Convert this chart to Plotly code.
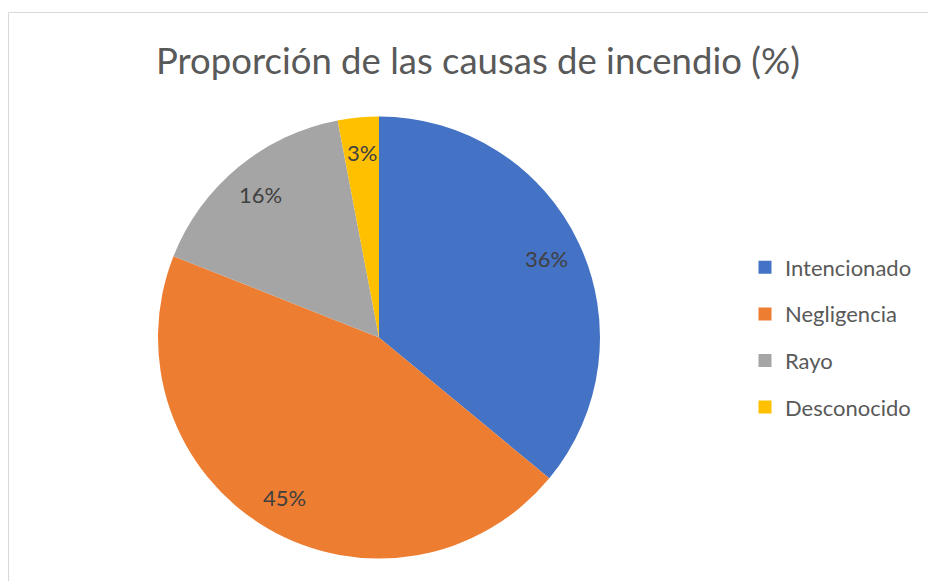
import math
import plotly.graph_objects as go

# ---- data ----
categories = ["Intencionado", "Negligencia", "Rayo", "Desconocido"]
values = [36, 45, 16, 3]
value_labels = ["36%", "45%", "16%", "3%"]
colors = ["#4472C4", "#ED7D31", "#A5A5A5", "#FFC000"]
title_text = "Proporción de las causas de incendio (%)"

# ---- layout constants ----
W, H = 936, 581
OFF = 8  # page body margin
FONT = "Lato"


def fx(sx):
    return (sx - OFF) / W


def fy(sy):
    return 1 - (sy - OFF) / H


cx, cy, r = 379, 337.5, 221

fig = go.Figure()
fig.add_trace(go.Pie(
    labels=categories, values=values, sort=False,
    direction="clockwise", rotation=0,
    marker=dict(colors=colors, line=dict(width=0)),
    textinfo="none", hoverinfo="none", showlegend=False,
    domain=dict(x=[fx(cx - r), fx(cx + r)], y=[fy(cy + r), fy(cy - r)]),
))

# legend entries (one group each so spacing can be controlled)
for i, (name, col) in enumerate(zip(categories, colors)):
    fig.add_trace(go.Scatter(
        x=[None], y=[None], mode="markers", name=name,
        legendgroup=f"g{i}",
        marker=dict(symbol="square", size=13, color=col),
        hoverinfo="skip",
    ))

# data labels placed at slice mid-angles
total = sum(values)
cum = 0
annotations = []
k = 0.84
for v, txt in zip(values, value_labels):
    mid = (cum + v / 2) / total * 2 * math.pi
    cum += v
    px = cx + k * r * math.sin(mid)
    py = cy - k * r * math.cos(mid)
    annotations.append(dict(
        x=fx(px), y=fy(py), xref="paper", yref="paper",
        text=txt, showarrow=False,
        font=dict(family=FONT, size=22, color="#404040"),
        xanchor="center", yanchor="middle",
    ))

annotations.append(dict(
    x=fx(478), y=fy(60), xref="paper", yref="paper",
    text=title_text, showarrow=False,
    font=dict(family=FONT, size=36.5, color="#595959"),
    xanchor="center", yanchor="middle",
))

fig.update_layout(
    width=W, height=H,
    margin=dict(l=0, r=0, t=0, b=0),
    paper_bgcolor="white", plot_bgcolor="white",
    xaxis=dict(visible=False), yaxis=dict(visible=False),
    annotations=annotations,
    showlegend=True,
    legend=dict(
        x=fx(745), xanchor="left", y=fy(337.5), yanchor="middle",
        font=dict(family=FONT, size=22, color="#595959"),
        tracegroupgap=15, bgcolor="rgba(0,0,0,0)",
    ),
    shapes=[dict(
        type="rect", xref="paper", yref="paper",
        x0=fx(8.5), x1=1.02, y0=-0.02, y1=fy(12.5),
        line=dict(color="#D9D9D9", width=1), fillcolor="rgba(0,0,0,0)",
        layer="below",
    )],
)

fig.write_html("out.html")
